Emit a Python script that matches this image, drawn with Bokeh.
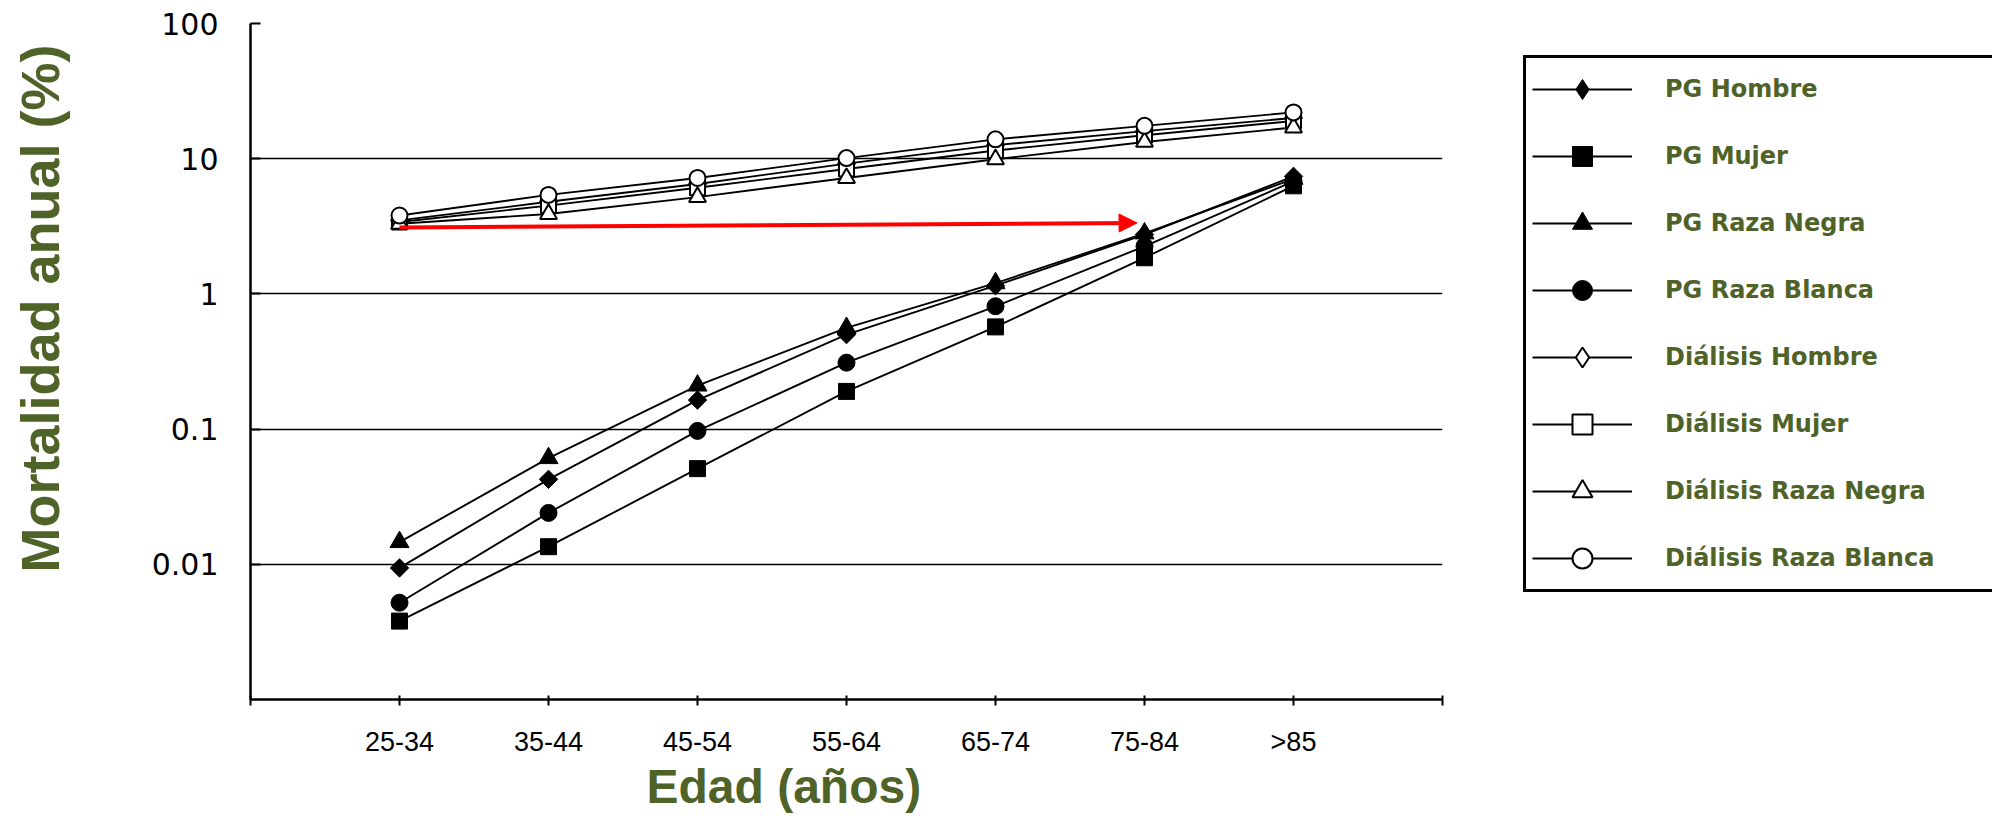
import math
from bokeh.plotting import figure
from bokeh.layouts import row
from bokeh.models import (Range1d, FixedTicker, Legend, LegendItem, Title,
                          Arrow, NormalHead)
from bokeh.embed import file_html
from bokeh.resources import INLINE

# ---------------- data ----------------
age_groups = ["25-34", "35-44", "45-54", "55-64", "65-74", "75-84", ">85"]

pg_hombre = [0.0094, 0.0425, 0.164, 0.50, 1.15, 2.75, 7.4]
pg_mujer = [0.0038, 0.0135, 0.051, 0.19, 0.57, 1.85, 6.3]
pg_raza_negra = [0.0146, 0.061, 0.21, 0.56, 1.20, 2.80, 7.1]
pg_raza_blanca = [0.0052, 0.024, 0.097, 0.31, 0.81, 2.25, 6.8]

dialisis_hombre = [3.5, 4.8, 6.5, 9.2, 12.6, 16.0, 20.0]
dialisis_mujer = [3.4, 4.5, 6.1, 8.4, 11.5, 14.9, 19.0]
dialisis_raza_negra = [3.3, 3.9, 5.2, 7.2, 9.9, 13.3, 17.0]
dialisis_raza_blanca = [3.8, 5.4, 7.2, 10.1, 13.9, 17.5, 22.0]

series_labels = ["PG Hombre", "PG Mujer", "PG Raza Negra", "PG Raza Blanca",
                 "Diálisis Hombre", "Diálisis Mujer", "Diálisis Raza Negra",
                 "Diálisis Raza Blanca"]

y_tick_values = [0.01, 0.1, 1, 10, 100]
y_tick_labels = ["0.01", "0.1", "1", "10", "100"]

x_title = "Edad (años)"
y_title = "Mortalidad anual (%)"

arrow_start = ("25-34", 3.1)
arrow_end = ("75-84", 3.35)

# ---------------- styles ----------------
GREEN = "#4f6228"
series_values = [pg_hombre, pg_mujer, pg_raza_negra, pg_raza_blanca,
                 dialisis_hombre, dialisis_mujer, dialisis_raza_negra,
                 dialisis_raza_blanca]
markers = ["square", "square", "triangle", "circle"] * 2
legend_markers = ["diamond", "square", "triangle", "circle"] * 2
angles = [math.pi / 4, 0, 0, 0] * 2
sizes = [13, 16, 19, 17, 12, 15, 17, 16]
fills = ["black"] * 4 + ["white"] * 4

x = list(range(len(age_groups)))

H = 816
TOP, BOTTOM = 23, 117

# ---------------- y-title strip ----------------
t = figure(width=80, height=H, output_backend="svg", toolbar_location=None,
           x_axis_location=None, y_axis_location=None,
           min_border_left=69, min_border_right=0,
           min_border_top=TOP, min_border_bottom=BOTTOM)
t.outline_line_color = None
t.grid.visible = False
t.background_fill_color = "white"
t.border_fill_color = "white"
t.add_layout(Title(text=y_title, align="left", offset=127, standoff=0,
                   vertical_align="bottom", text_font="Liberation Sans",
                   text_font_style="bold", text_font_size="54px",
                   text_color=GREEN), "left")

# ---------------- main chart ----------------
p = figure(width=1420, height=H, y_axis_type="log",
           x_range=Range1d(-1, len(age_groups)),
           y_range=Range1d(0.001, 100),
           output_backend="svg", toolbar_location=None,
           min_border_left=170, min_border_right=58,
           min_border_top=TOP, min_border_bottom=BOTTOM)
p.outline_line_color = None
p.background_fill_color = "white"
p.border_fill_color = "white"

p.xaxis.ticker = FixedTicker(ticks=list(range(-1, len(age_groups) + 1)), minor_ticks=[])
overrides = {i: lab for i, lab in enumerate(age_groups)}
overrides[-1] = ""
overrides[len(age_groups)] = ""
p.xaxis.major_label_overrides = overrides
p.xaxis.axis_line_width = 2.5
p.xaxis.major_tick_line_width = 2
p.xaxis.major_tick_in = 4
p.xaxis.major_tick_out = 6
p.xaxis.minor_tick_line_color = None
p.xaxis.major_label_standoff = 21
p.xaxis.major_label_text_font = "Liberation Sans"
p.xaxis.major_label_text_font_size = "27px"
p.xaxis.major_label_text_color = "black"

p.yaxis.ticker = FixedTicker(ticks=y_tick_values, minor_ticks=[])
p.yaxis.major_label_overrides = dict(zip(y_tick_values, y_tick_labels))
p.yaxis.axis_line_width = 2.5
p.yaxis.major_tick_line_width = 2
p.yaxis.major_tick_in = 10
p.yaxis.major_tick_out = 0
p.yaxis.minor_tick_line_color = None
p.yaxis.major_label_standoff = 32
p.yaxis.major_label_text_font = "DejaVu Sans"
p.yaxis.major_label_text_font_size = "30px"
p.yaxis.major_label_text_color = "black"

p.xgrid.visible = False
p.ygrid.ticker = FixedTicker(ticks=y_tick_values[:-1], minor_ticks=[])
p.ygrid.grid_line_color = "black"
p.ygrid.grid_line_width = 1.5
p.ygrid.grid_line_alpha = 1.0

for vals in series_values:
    p.line(x, vals, line_color="black", line_width=1.9)
for vals, m, a, s, f in zip(series_values, markers, angles, sizes, fills):
    p.scatter(x, vals, marker=m, angle=a, size=s, fill_color=f,
              line_color="black", line_width=2 if f == "white" else 1)

p.add_layout(Arrow(x_start=age_groups.index(arrow_start[0]), y_start=arrow_start[1],
                   x_end=age_groups.index(arrow_end[0]) - 0.05, y_end=arrow_end[1],
                   line_color="#ff0000", line_width=4,
                   end=NormalHead(size=18, fill_color="#ff0000", line_color="#ff0000")))

p.add_layout(Title(text=x_title, align="left", offset=396, standoff=0,
                   vertical_align="top", text_font="Liberation Sans",
                   text_font_style="bold", text_font_size="48px",
                   text_color=GREEN), "below")

# ---------------- legend panel ----------------
q = figure(width=492, height=H, x_range=Range1d(100, 101), y_range=Range1d(0.001, 100),
           y_axis_type="log", output_backend="svg", toolbar_location=None,
           x_axis_location=None, y_axis_location=None,
           min_border_left=0, min_border_right=0,
           min_border_top=TOP, min_border_bottom=BOTTOM)
q.outline_line_color = None
q.grid.visible = False
q.background_fill_color = "white"
q.border_fill_color = "white"

items = []
for lab, vals, m, s, f in zip(series_labels, series_values, legend_markers, sizes, fills):
    lr = q.line(x, vals, line_color="black", line_width=1.9)
    mr = q.scatter(x, vals, marker=m, size=s, fill_color=f, line_color="black",
                   line_width=2 if f == "white" else 1)
    items.append(LegendItem(label=lab, renderers=[lr, mr]))

legend = Legend(items=items, location=(23, 107), orientation="vertical",
                border_line_color="black", border_line_width=3.5, border_line_alpha=1.0,
                background_fill_color="white", background_fill_alpha=1.0,
                glyph_width=100, glyph_height=50, label_standoff=33,
                label_text_font="DejaVu Sans", label_text_font_style="bold",
                label_text_font_size="24px", label_text_color=GREEN,
                spacing=17, padding=6, margin=0, label_width=430)
q.add_layout(legend)

layout = row(t, p, q)
open("out.html", "w").write(file_html(layout, INLINE))
